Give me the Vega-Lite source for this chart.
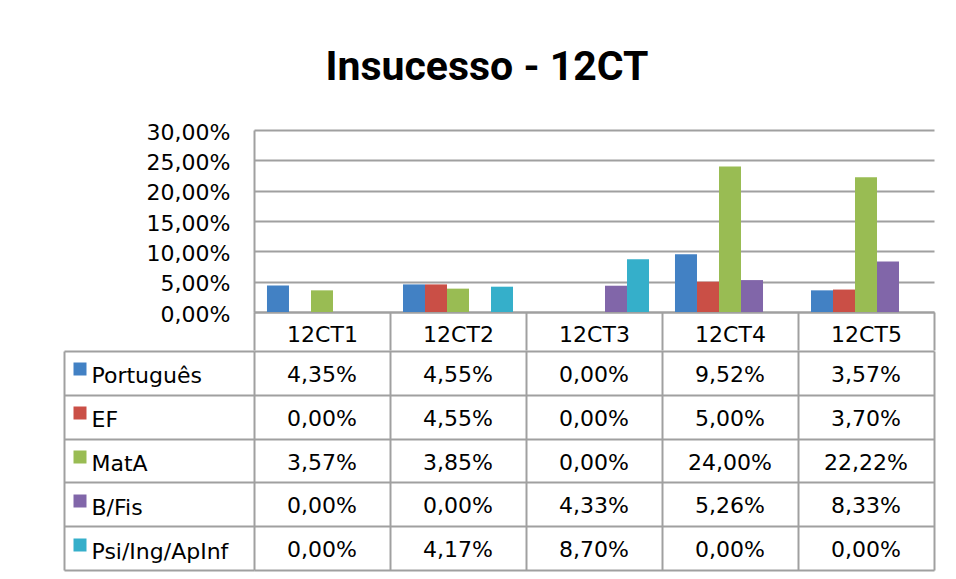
{
  "$schema": "https://vega.github.io/schema/vega-lite/v6.json",
  "padding": {"left": 63, "top": 47, "right": 10, "bottom": 5},
  "config": {
    "locale": {"number": {"decimal": ",", "thousands": ".", "grouping": [3], "currency": ["", " €"]}},
    "font": "DejaVu Sans",
    "view": {"stroke": null},
    "axis": {"labelFont": "DejaVu Sans", "labelFontSize": 22, "labelColor": "#000000", "gridColor": "#a0a0a0", "gridWidth": 2, "domainColor": "#a0a0a0", "domainWidth": 2, "tickColor": "#a0a0a0", "tickWidth": 2, "title": null}
  },
  "title": {"text": "Insucesso - 12CT", "font": "Roboto", "fontWeight": "bold", "fontSize": 41, "color": "#000000", "anchor": "middle", "dx": -12, "offset": 32},
  "datasets": {
    "d": [
      {"turma": "12CT1", "disciplina": "Português", "valor": 0.0435},
      {"turma": "12CT2", "disciplina": "Português", "valor": 0.0455},
      {"turma": "12CT3", "disciplina": "Português", "valor": 0.0},
      {"turma": "12CT4", "disciplina": "Português", "valor": 0.0952},
      {"turma": "12CT5", "disciplina": "Português", "valor": 0.0357},
      {"turma": "12CT1", "disciplina": "EF", "valor": 0.0},
      {"turma": "12CT2", "disciplina": "EF", "valor": 0.0455},
      {"turma": "12CT3", "disciplina": "EF", "valor": 0.0},
      {"turma": "12CT4", "disciplina": "EF", "valor": 0.05},
      {"turma": "12CT5", "disciplina": "EF", "valor": 0.037},
      {"turma": "12CT1", "disciplina": "MatA", "valor": 0.0357},
      {"turma": "12CT2", "disciplina": "MatA", "valor": 0.0385},
      {"turma": "12CT3", "disciplina": "MatA", "valor": 0.0},
      {"turma": "12CT4", "disciplina": "MatA", "valor": 0.24},
      {"turma": "12CT5", "disciplina": "MatA", "valor": 0.2222},
      {"turma": "12CT1", "disciplina": "B/Fis", "valor": 0.0},
      {"turma": "12CT2", "disciplina": "B/Fis", "valor": 0.0},
      {"turma": "12CT3", "disciplina": "B/Fis", "valor": 0.0433},
      {"turma": "12CT4", "disciplina": "B/Fis", "valor": 0.0526},
      {"turma": "12CT5", "disciplina": "B/Fis", "valor": 0.0833},
      {"turma": "12CT1", "disciplina": "Psi/Ing/ApInf", "valor": 0.0},
      {"turma": "12CT2", "disciplina": "Psi/Ing/ApInf", "valor": 0.0417},
      {"turma": "12CT3", "disciplina": "Psi/Ing/ApInf", "valor": 0.087},
      {"turma": "12CT4", "disciplina": "Psi/Ing/ApInf", "valor": 0.0},
      {"turma": "12CT5", "disciplina": "Psi/Ing/ApInf", "valor": 0.0}
    ]
  },
  "data": {"name": "d"},
  "bounds": "flush",
  "spacing": 39,
  "vconcat": [
    {
      "width": 680,
      "height": 182,
      "mark": {"type": "bar"},
      "encoding": {
        "x": {"field": "turma", "type": "nominal", "sort": ["12CT1", "12CT2", "12CT3", "12CT4", "12CT5"],
              "scale": {"paddingInner": 0, "paddingOuter": 0},
              "axis": {"orient": "bottom", "labelAngle": 0, "tickBand": "extent", "tickSize": 38, "labelPadding": -16, "labelBaseline": "middle", "grid": false, "domain": true}},
        "xOffset": {"field": "disciplina", "type": "nominal", "sort": ["Português", "EF", "MatA", "B/Fis", "Psi/Ing/ApInf"],
                    "scale": {"paddingInner": 0, "paddingOuter": 0.59}},
        "y": {"field": "valor", "type": "quantitative",
              "scale": {"domain": [0, 0.3], "nice": false},
              "axis": {"format": ".2%", "values": [0, 0.05, 0.1, 0.15, 0.2, 0.25, 0.3], "ticks": false, "labelPadding": 24, "labelOffset": 2, "grid": true, "domain": true, "labelBaseline": "middle"}},
        "color": {"field": "disciplina", "type": "nominal",
                  "scale": {"domain": ["Português", "EF", "MatA", "B/Fis", "Psi/Ing/ApInf"], "range": ["#4281C4", "#CA4F46", "#99BC53", "#8166A9", "#35AFCA"]},
                  "legend": {"orient": "none", "legendX": -185, "legendY": 228, "direction": "vertical", "title": null, "symbolType": "square", "symbolSize": 169, "symbolStrokeWidth": 0, "labelExpr": "''", "labelFontSize": 22, "labelOffset": 0, "rowPadding": 22, "padding": 0}}
      }
    },
    {
      "width": 680,
      "height": 219,
      "mark": {"type": "text", "font": "DejaVu Sans", "fontSize": 22, "baseline": "middle", "dy": 2, "color": "#000000"},
      "encoding": {
        "x": {"field": "turma", "type": "nominal", "sort": ["12CT1", "12CT2", "12CT3", "12CT4", "12CT5"],
              "scale": {"paddingInner": 0, "paddingOuter": 0},
              "axis": {"labels": false, "ticks": false, "domain": false, "grid": true, "tickBand": "extent"}},
        "y": {"field": "disciplina", "type": "nominal", "sort": ["Português", "EF", "MatA", "B/Fis", "Psi/Ing/ApInf"],
              "scale": {"paddingInner": 0, "paddingOuter": 0},
              "axis": {"offset": 190, "tickSize": -190, "tickBand": "extent", "labels": true, "labelAlign": "left", "labelBaseline": "middle", "labelPadding": 163, "labelOffset": 3, "labelLimit": 200, "grid": true, "domain": true}},
        "text": {"field": "valor", "type": "quantitative", "format": ".2%"}
      }
    }
  ]
}
